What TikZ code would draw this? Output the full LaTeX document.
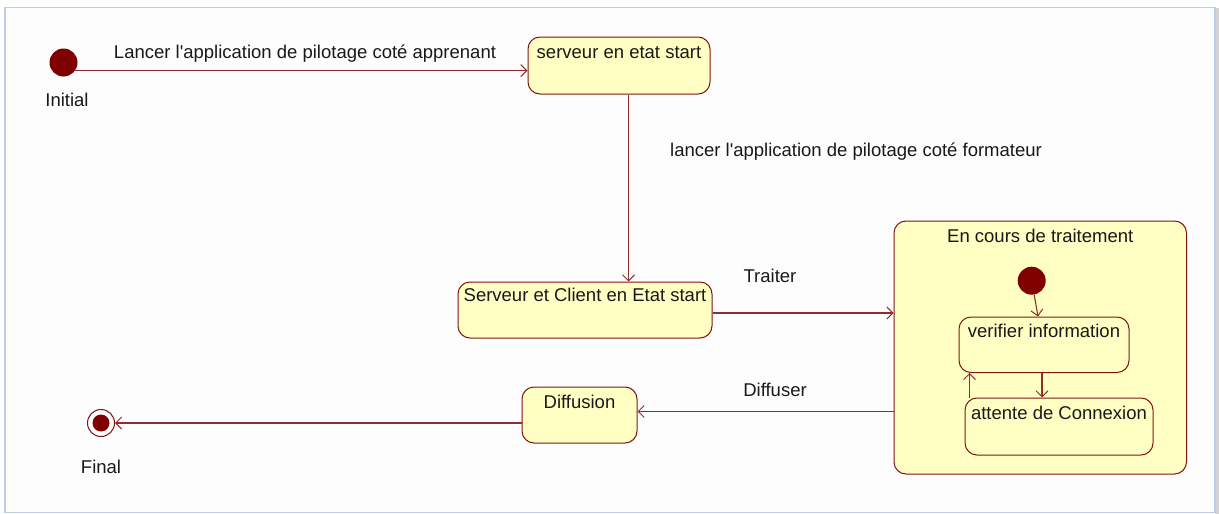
\documentclass[tikz,border=0pt]{standalone}
\usepackage{fontspec}
\setmainfont{Liberation Sans}
\usetikzlibrary{arrows.meta}
\definecolor{stroke}{RGB}{128,20,20}
\definecolor{wire}{RGB}{145,45,45}
\definecolor{fillY}{RGB}{255,255,196}
\definecolor{dotC}{RGB}{128,0,0}
\definecolor{frameC}{RGB}{185,205,229}
\definecolor{txt}{RGB}{25,25,25}
\tikzset{
  statebox/.style={draw=stroke, fill=fillY, rounded corners=12pt, line width=1pt, inner sep=0pt},
  lbl/.style={font=\fontsize{18.5}{20}\selectfont, text=txt, inner sep=0pt, anchor=base},
  tr/.style={draw=wire, line width=1.1pt, -{Straight Barb[length=6pt,width=12pt,line width=1pt]}},
  dotnode/.style={circle, fill=dotC, inner sep=0pt, minimum size=28pt},
}
\begin{document}
\begin{tikzpicture}[x=1pt,y=-1pt]
\useasboundingbox (0,0) rectangle (1219,514);
\fill[white] (0,0) rectangle (1219,514);
\fill[gray!35] (1215,8) rectangle (1219,514);
\draw[frameC, line width=1.5pt, fill={rgb,255:red,253;green,253;blue,253}] (5,7.5) rectangle (1215,512.5);

% initial and final
\node[dotnode] (init) at (63.5,62.5) {};
\node[lbl] (initlbl) at (67,106.5) {Initial};
\node[circle, draw=stroke, fill=white, line width=1pt, minimum size=27pt, inner sep=0pt] (fin) at (101,423) {};
\node[circle, fill=dotC, minimum size=17pt, inner sep=0pt] (fincore) at (fin) {};
\node[lbl] (finlbl) at (101,473.5) {Final};

% states
\node[statebox, minimum width=182pt, minimum height=57pt,
      label={[lbl, name=s1t, yshift=-21.5pt]north:serveur en etat start}] (s1) at (619,65.5) {};
\node[statebox, minimum width=254pt, minimum height=56pt,
      label={[lbl, name=s2t, yshift=-19.5pt]north:Serveur et Client en Etat start}] (s2) at (585,310) {};
\node[statebox, minimum width=292.5pt, minimum height=253pt,
      label={[lbl, name=compt, yshift=-21.5pt]north:En cours de traitement}] (comp) at (1040.25,347.5) {};
\node[statebox, minimum width=170pt, minimum height=55.5pt,
      label={[lbl, name=vit, yshift=-20.5pt]north:verifier information}] (vi) at (1044,344.75) {};
\node[statebox, minimum width=188pt, minimum height=57pt,
      label={[lbl, name=attt, yshift=-21.5pt]north:attente de Connexion}] (att) at (1059,426.5) {};
\node[statebox, minimum width=115pt, minimum height=56pt,
      label={[lbl, name=difft, yshift=-21.5pt]north:Diffusion}] (diff) at (579.5,415) {};
\node[dotnode] (idot) at (1031.7,280.7) {};

% edge labels
\node[lbl] (l1) at (305,58.5) {Lancer l\textquotesingle application de pilotage coté apprenant};
\node[lbl] (l2) at (856,156.5) {lancer l\textquotesingle application de pilotage coté formateur};
\node[lbl] (l3) at (770,282.5) {Traiter};
\node[lbl] (l4) at (775,396.5) {Diffuser};

% connectors
\coordinate (a1) at (init.-35);
\draw[tr] (a1) -- (a1 -| s1.west);
\coordinate (a2) at ([xshift=9.5pt]s1.south);
\draw[tr] (a2) -- (a2 |- s2.north);
\coordinate (a3) at ([yshift=-3pt]s2.east);
\draw[tr] (a3) -- (a3 -| comp.west);
\coordinate (a4) at ([yshift=-64pt]comp.west);
\draw[tr] (a4) -- (a4 -| diff.east);
\coordinate (a5) at ([yshift=-8pt]diff.west);
\draw[tr] (a5) -- (fin);
\coordinate (a6) at ([xshift=-6pt]vi.north);
\draw[tr] (idot) -- (a6);
\coordinate (a7) at ([xshift=-2pt]vi.south);
\draw[tr] (a7) -- (a7 |- att.north);
\coordinate (a8) at ([xshift=5pt]att.north west);
\draw[tr] (a8) -- (a8 |- vi.south);
\end{tikzpicture}
\end{document}
